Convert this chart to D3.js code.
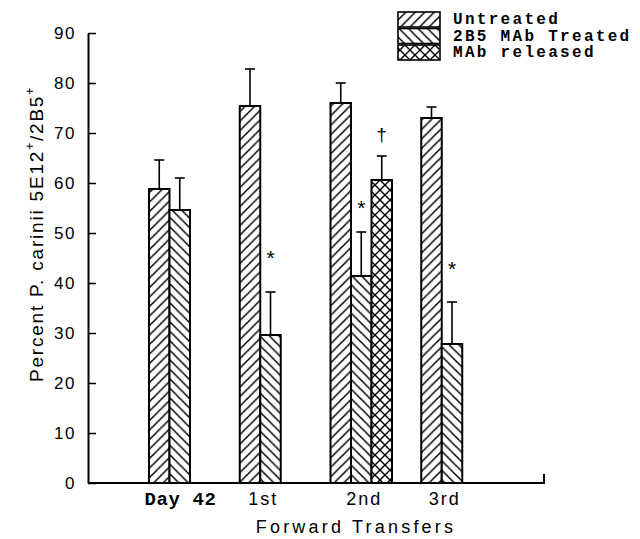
<!DOCTYPE html>
<html><head><meta charset="utf-8">
<script src="https://cdn.jsdelivr.net/npm/d3@7"></script>
<style>body{margin:0;background:#fff}</style>
</head><body><svg id="c" width="640" height="539"></svg>
<script>
const categories = ["Day 42", "1st", "2nd", "3rd"];
const seriesNames = ["Untreated", "2B5 MAb Treated", "MAb released"];
const untreatedMean = [58.8, 75.4, 76.0, 73.0];
const untreatedSD   = [5.8, 7.4, 4.0, 2.2];
const treatedMean   = [54.6, 29.6, 41.4, 27.8];
const treatedSD     = [6.4, 8.6, 8.8, 8.4];
const releasedMean  = [null, null, 60.6, null];
const releasedSD    = [null, null, 4.8, null];
const treatedMarks  = ["", "*", "*", "*"];
const treatedMarkY  = [null, 46, 56, 43.8];
const releasedMarks = ["", "", "\u2020", ""];
const releasedMarkY = [null, null, 69.4, null];
const yTicks = [0, 10, 20, 30, 40, 50, 60, 70, 80, 90];

const means = [untreatedMean, treatedMean, releasedMean];
const sds = [untreatedSD, treatedSD, releasedSD];
const marks = [[], treatedMarks, releasedMarks];
const markY = [[], treatedMarkY, releasedMarkY];

const svg = d3.select("#c");
const sans = "'Liberation Sans', Arial, sans-serif";
const mono = "'Liberation Mono', 'Courier New', monospace";

const y = d3.scaleLinear().domain([0, 90]).range([483, 33]);
const x = d3.scaleBand().domain(categories).range([149, 512]);
const xs = d3.scaleBand().domain(seriesNames).range([0, 61.5]);
const axisX0 = 88, axisX1 = 544;

// patterns
const defs = svg.append("defs");
const T = 9.5;
function pat(id, paths, t, sw) {
  const p = defs.append("pattern").attr("id", id).attr("patternUnits", "userSpaceOnUse")
    .attr("width", t).attr("height", t);
  p.append("rect").attr("width", t).attr("height", t).attr("fill", "#fff");
  paths.forEach(d => p.append("path").attr("d", d).attr("stroke", "#000").attr("stroke-width", sw).attr("fill", "none"));
}
const fwdP = t => `M${-t/4},${t/4}L${t/4},${-t/4}M0,${t}L${t},0M${t*3/4},${t*5/4}L${t*5/4},${t*3/4}`;
const bwdP = t => `M${-t/4},${t*3/4}L${t/4},${t*5/4}M0,0L${t},${t}M${t*3/4},${-t/4}L${t*5/4},${t/4}`;
pat("p0", [fwdP(T)], T, 1.5);
pat("p1", [bwdP(T)], T, 1.5);
pat("p2", [fwdP(10), bwdP(10)], 10, 1.4);

// rows
const rows = [];
categories.forEach((c, i) => {
  seriesNames.forEach((s, j) => {
    if (means[j][i] != null) rows.push({cat: c, ser: s, j, v: means[j][i], sd: sds[j][i],
      mark: marks[j][i] || "", my: markY[j][i]});
  });
});

// bars
svg.append("g").selectAll("rect").data(rows).join("rect")
  .attr("x", d => x(d.cat) + xs(d.ser))
  .attr("y", d => y(d.v))
  .attr("width", xs.bandwidth())
  .attr("height", d => y(0) - y(d.v))
  .attr("fill", d => `url(#p${d.j})`)
  .attr("stroke", "#000").attr("stroke-width", 2);

// error bars
const eb = svg.append("g").attr("stroke", "#000").attr("stroke-width", 1.6);
rows.forEach(d => {
  const cx = x(d.cat) + xs(d.ser) + xs.bandwidth() / 2;
  eb.append("line").attr("x1", cx).attr("x2", cx).attr("y1", y(d.v)).attr("y2", y(d.v + d.sd));
  eb.append("line").attr("x1", cx - 5).attr("x2", cx + 5).attr("y1", y(d.v + d.sd)).attr("y2", y(d.v + d.sd));
});

// significance marks
rows.filter(d => d.mark).forEach(d => {
  const cx = x(d.cat) + xs(d.ser) + xs.bandwidth() / 2;
  const isStar = d.mark === "*";
  svg.append("text").attr("x", cx).attr("y", y(d.my) + (isStar ? 11.5 : 5))
    .attr("text-anchor", "middle").attr("font-family", sans)
    .attr("font-size", isStar ? 21 : 18.5).text(d.mark);
});

// y axis
const ya = svg.append("g").attr("transform", `translate(${axisX0},0)`)
  .call(d3.axisLeft(y).tickValues(yTicks).tickSizeInner(-8).tickSizeOuter(0).tickPadding(12));
ya.select(".domain").attr("stroke-width", 2);
ya.selectAll(".tick line").attr("stroke-width", 1.5);
ya.selectAll(".tick text").attr("font-family", sans).attr("font-size", 17)
  .attr("letter-spacing", "1.5px").attr("fill", "#000");

// x axis line
svg.append("path").attr("d", `M${axisX0},${y(0)}H${axisX1}V${y(0) - 9}`)
  .attr("fill", "none").attr("stroke", "#000").attr("stroke-width", 2);

// x labels
categories.forEach((c, i) => {
  const n = means.filter(m => m[i] != null).length;
  const cx = x(c) + n * xs.bandwidth() / 2;
  const first = i === 0;
  svg.append("text").attr("x", cx + (first ? 11 : 3)).attr("y", 505)
    .attr("text-anchor", "middle")
    .attr("font-family", first ? mono : sans)
    .attr("font-weight", "bold")
    .attr("font-weight", first ? "bold" : "normal")
    .attr("font-size", first ? 19 : 18)
    .attr("letter-spacing", first ? "0.6px" : "2px")
    .text(c);
});

// x title
svg.append("text").attr("x", 356).attr("y", 533).attr("text-anchor", "middle")
  .attr("font-family", sans).attr("font-size", 18).attr("letter-spacing", "3.2px")
  .text("Forward Transfers");

// y title
const yt = svg.append("text").attr("transform", "translate(43,234) rotate(-90)")
  .attr("text-anchor", "middle").attr("font-family", sans).attr("font-size", 19)
  .attr("letter-spacing", "1.8px");
yt.append("tspan").text("Percent P. carinii 5E12");
yt.append("tspan").attr("font-size", 12).attr("dy", -9).text("+");
yt.append("tspan").attr("dy", 9).text("/2B5");
yt.append("tspan").attr("font-size", 12).attr("dy", -9).text("+");

// legend
const lg = svg.append("g");
seriesNames.forEach((s, j) => {
  const ly = 12 + j * 16.5;
  lg.append("rect").attr("x", 398).attr("y", ly).attr("width", 42).attr("height", 15)
    .attr("fill", `url(#p${j})`).attr("stroke", "#000").attr("stroke-width", 1.6);
  lg.append("text").attr("x", 453).attr("y", ly + 12).attr("font-family", mono)
    .attr("font-weight", "bold").attr("font-size", 16).attr("letter-spacing", "2.3px").text(s);
});
</script></body></html>
